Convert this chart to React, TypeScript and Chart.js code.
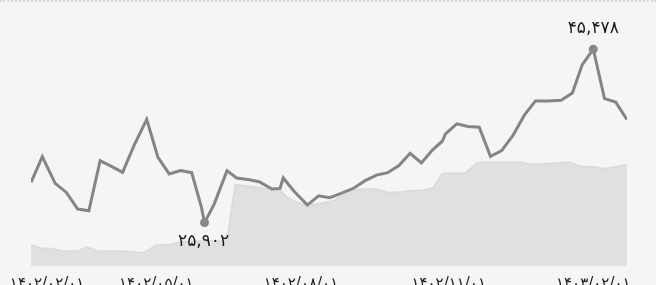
import React, { useEffect, useRef } from 'react';
import { Chart, registerables } from 'chart.js';

Chart.register(...registerables);

// Days counted from 1402/02/01
const priceDays = [15, 22, 30, 37, 44, 51, 58, 65, 72, 79, 87, 94, 101, 108, 115, 121, 123, 129, 137, 143, 151, 157, 165, 170, 172, 179, 187, 194, 201, 208, 216, 223, 230, 237, 244, 251, 258, 265, 271, 273, 280, 287, 294, 301, 308, 315, 322, 329, 337, 345, 352, 358, 365, 372, 379, 386];
const priceValues = [30438, 33350, 30325, 29305, 27424, 27232, 32897, 32240, 31571, 34563, 37543, 33271, 31390, 31764, 31537, 27685, 25902, 27990, 31764, 30937, 30744, 30518, 29690, 29758, 30937, 29384, 27877, 28931, 28705, 29192, 29803, 30631, 31254, 31537, 32330, 33724, 32636, 34109, 35084, 35922, 37055, 36750, 36670, 33384, 34030, 35730, 37996, 39639, 39639, 39696, 40523, 43661, 45478, 39888, 39503, 37509];

const areaDays = [15, 21, 28, 34, 44, 50, 57, 72, 85, 93, 102, 109, 120, 137, 142, 157, 165, 170, 174, 180, 186, 192, 198, 203, 216, 221, 230, 237, 246, 251, 260, 265, 271, 285, 293, 298, 320, 328, 341, 350, 358, 366, 372, 382, 386];
const areaValues = [23379, 23039, 22982, 22699, 22699, 23152, 22699, 22699, 22506, 23379, 23436, 23776, 23833, 23833, 30178, 29872, 29577, 29577, 28818, 28252, 27877, 27990, 28172, 28365, 29577, 29690, 29690, 29305, 29384, 29498, 29577, 29803, 31458, 31458, 32671, 32704, 32704, 32444, 32637, 32704, 32217, 32217, 31990, 32330, 32444];

const tickDays = [25, 93, 183, 275, 365];
const tickLabels = ['۱۴۰۲/۰۲/۰۱', '۱۴۰۲/۰۵/۰۱', '۱۴۰۲/۰۸/۰۱', '۱۴۰۲/۱۱/۰۱', '۱۴۰۳/۰۲/۰۱'];

const yMin = 21000;
const yMax = 50800;

const FA = '۰۱۲۳۴۵۶۷۸۹';
const toFa = (n: number) => n.toLocaleString('en-US').replace(/\d/g, (d) => FA[+d]);

const minIdx = priceValues.indexOf(Math.min(...priceValues));
const maxIdx = priceValues.indexOf(Math.max(...priceValues));

const extremaLabels = {
  id: 'extremaLabels',
  afterDatasetsDraw(chart: any) {
    const meta = chart.getDatasetMeta(0);
    const ctx = chart.ctx;
    ctx.save();
    ctx.font = '17px "DejaVu Sans"';
    ctx.fillStyle = '#1a1a1a';
    ctx.textAlign = 'center';
    ctx.textBaseline = 'middle';
    const pMin = meta.data[minIdx];
    const pMax = meta.data[maxIdx];
    ctx.fillText(toFa(priceValues[minIdx]), pMin.x - 1, pMin.y + 19);
    ctx.fillText(toFa(priceValues[maxIdx]), pMax.x, pMax.y - 21);
    ctx.restore();
  },
};

export default function App() {
  const ref = useRef<HTMLCanvasElement | null>(null);

  useEffect(() => {
    document.body.style.margin = '0';
    document.body.style.background = '#f5f5f5';
    document.documentElement.style.overflow = 'hidden';
    const canvas = ref.current;
    if (!canvas) return;
    const chart = new Chart(canvas, {
      type: 'line',
      data: {
        datasets: [
          {
            data: priceDays.map((d, i) => ({ x: d, y: priceValues[i] })),
            borderColor: '#858585',
            borderWidth: 3,
            fill: false,
            tension: 0,
            pointRadius: (c: any) => (c.dataIndex === minIdx || c.dataIndex === maxIdx ? 4.5 : 0),
            pointHoverRadius: 0,
            pointBackgroundColor: '#888',
            pointBorderWidth: 0,
            order: 0,
          },
          {
            data: areaDays.map((d, i) => ({ x: d, y: areaValues[i] })),
            borderColor: '#dadada',
            borderWidth: 1.5,
            backgroundColor: '#e0e0e0',
            fill: 'start',
            tension: 0,
            pointRadius: 0,
            order: 1,
          },
        ],
      },
      options: {
        responsive: false,
        animation: false,
        devicePixelRatio: 1,
        layout: { padding: { left: 31, right: 29, top: 0, bottom: 0 } },
        plugins: { legend: { display: false }, tooltip: { enabled: false } },
        scales: {
          x: {
            type: 'linear',
            min: priceDays[0],
            max: priceDays[priceDays.length - 1],
            grid: { display: false, drawTicks: false },
            border: { display: false },
            afterBuildTicks: (axis: any) => {
              axis.ticks = tickDays.map((v) => ({ value: v }));
            },
            ticks: {
              autoSkip: false,
              maxRotation: 0,
              padding: 9,
              color: '#222',
              font: { family: '"DejaVu Sans"', size: 15 },
              callback: (v: any) => {
                const i = tickDays.indexOf(Number(v));
                return i >= 0 ? tickLabels[i] : '';
              },
            },
          },
          y: {
            display: false,
            min: yMin,
            max: yMax,
          },
        },
      },
      plugins: [extremaLabels],
    } as any);
    return () => chart.destroy();
  }, []);

  return (
    <div style={{ position: 'relative', width: 656, height: 285, overflow: 'hidden', background: '#f5f5f5' }}>
      <div style={{ height: 0, borderTop: '2px dotted #d8d8d8' }} />
      <div style={{ position: 'absolute', top: 2, left: 0, width: 656, height: 300 }}>
        <canvas ref={ref} width={656} height={300} style={{ display: 'block' }} />
      </div>
    </div>
  );
}
